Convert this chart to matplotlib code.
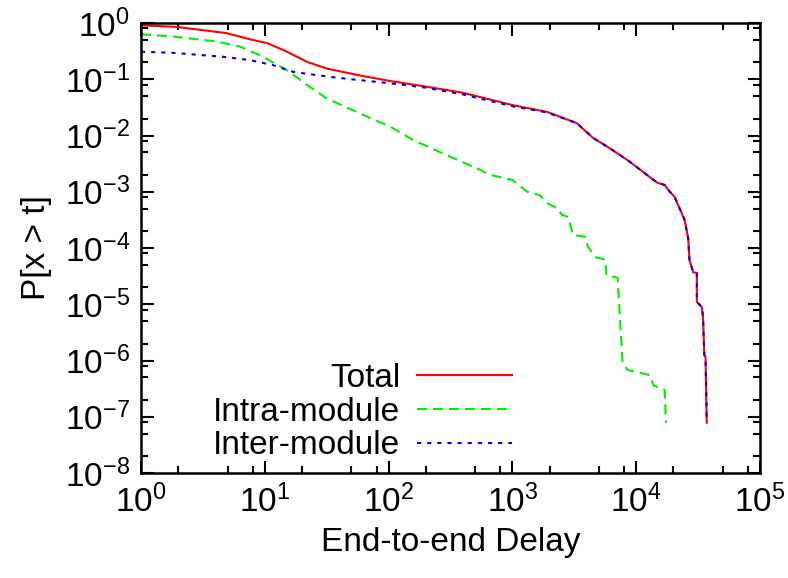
import math
import matplotlib
matplotlib.use("Agg")
import matplotlib.pyplot as plt
from matplotlib.ticker import LogLocator, NullFormatter, FuncFormatter

plt.rcParams['font.family'] = ['Liberation Sans', 'DejaVu Sans']
plt.rcParams['mathtext.fontset'] = 'custom'
plt.rcParams['mathtext.rm'] = 'Liberation Sans'
plt.rcParams['mathtext.it'] = 'Liberation Sans'
plt.rcParams['mathtext.default'] = 'regular'
plt.rcParams['lines.scale_dashes'] = False
plt.rcParams['axes.unicode_minus'] = False

# ---- data ----
total_t = [1, 1.95, 4.9, 7.6, 10.5, 15.1, 21.9, 31.6, 55, 102, 200, 398, 1000, 1905,
           3311, 4467, 6457, 8913, 12880, 14790, 16980, 18200, 20420, 22390, 24550,
           26300, 26920, 28840, 30900, 30900, 33880, 34670, 35480, 36310, 37150]
total_p = [0.912, 0.851, 0.661, 0.513, 0.437, 0.309, 0.204, 0.155, 0.120, 0.0933,
           0.0741, 0.0575, 0.0347, 0.0263, 0.0166, 0.00912, 0.0055, 0.00339, 0.00182,
           0.00145, 0.00132, 0.00107, 8.1e-4, 5.1e-4, 3.2e-4, 1.5e-4, 6.2e-5, 3.7e-5,
           3.6e-5, 1.1e-5, 8.9e-6, 5.9e-6, 1.26e-6, 1.15e-6, 7.8e-8]

inter_t = [1, 1.8, 4.6, 7.6, 11.7, 17, 31.6, 55, 102, 200, 398, 1000, 1905,
           3311, 4467, 6457, 8913, 12880, 14790, 16980, 18200, 20420, 22390, 24550,
           26300, 26920, 28840, 30900, 30900, 33880, 34670, 35480, 36310, 37150]
inter_p = [0.309, 0.295, 0.251, 0.219, 0.178, 0.135, 0.112, 0.0977, 0.0851, 0.0708,
           0.0537, 0.0331, 0.0257, 0.0166, 0.00912, 0.0055, 0.00339, 0.00182,
           0.00145, 0.00132, 0.00107, 8.1e-4, 5.1e-4, 3.2e-4, 1.5e-4, 6.2e-5, 3.7e-5,
           3.6e-5, 1.1e-5, 8.9e-6, 5.9e-6, 1.26e-6, 1.15e-6, 7.8e-8]

intra_t = [1, 1.8, 4.1, 6.3, 9.1, 15.1, 21.9, 31.6, 55, 102, 158, 295, 550, 660, 1000,
           1318, 1660, 1905, 2291, 2512, 2818, 3090, 3890, 4074, 4677, 5623, 5754,
           7079, 7762, 8511, 12880, 13800, 16980, 17380]
intra_p = [0.631, 0.575, 0.468, 0.380, 0.269, 0.145, 0.0794, 0.0457, 0.0263, 0.0145,
           0.0083, 0.00447, 0.00245, 0.0020, 0.00162, 0.0010, 8.7e-4, 6.3e-4, 5.1e-4,
           3.9e-4, 3.55e-4, 1.7e-4, 1.58e-4, 1.05e-4, 6.9e-5, 6.2e-5, 3.3e-5, 2.95e-5,
           9.1e-7, 6.8e-7, 5.5e-7, 3.6e-7, 3.0e-7, 7.8e-8]

labels = ["Total", "Intra-module", "Inter-module"]
x_label = "End-to-end Delay"
y_label = "P[x > t]"

fig = plt.figure(figsize=(7.88, 5.78), dpi=100)
ax = fig.add_axes([141/788, 1-473/578, (760-141)/788, (473-23)/578])

ax.plot(total_t, total_p, color='#ff0000', lw=1.5, ls='-', label=labels[0])
ax.plot(intra_t, intra_p, color='#00ee00', lw=1.5, ls=(0, (7.2, 4.3)), label=labels[1])
ax.plot(inter_t, inter_p, color='#0000ff', lw=1.5, ls=(0, (3.0, 4.3)), label=labels[2])

ax.set_xscale('log')
ax.set_yscale('log')
ax.set_xlim(1, 1e5)
ax.set_ylim(1e-8, 1)

fmt = FuncFormatter(lambda v, p: r'$10^{%d}$' % round(math.log10(v)))
ax.xaxis.set_major_locator(LogLocator(base=10, numticks=20))
ax.yaxis.set_major_locator(LogLocator(base=10, numticks=20))
ax.xaxis.set_major_formatter(fmt)
ax.yaxis.set_major_formatter(fmt)
ax.xaxis.set_minor_locator(LogLocator(base=10, subs=(2, 5, 8), numticks=20))
ax.yaxis.set_minor_locator(LogLocator(base=10, subs=(2, 5, 8), numticks=20))
ax.xaxis.set_minor_formatter(NullFormatter())
ax.yaxis.set_minor_formatter(NullFormatter())

ax.tick_params(which='both', direction='in', top=True, right=True, width=1.5, colors='black')
ax.tick_params(which='major', length=9, labelsize=24, pad=8)
ax.tick_params(which='minor', length=5)
for s in ax.spines.values():
    s.set_linewidth(1.8)

ax.set_xlabel(x_label, fontsize=24, labelpad=6)
ax.set_ylabel(y_label, fontsize=24, labelpad=9)

leg = ax.legend(loc='lower right', bbox_to_anchor=((512-141)/619, 0.026), frameon=False,
                markerfirst=False, fontsize=24, handlelength=2.85, handletextpad=0.5,
                borderpad=0, borderaxespad=0, labelspacing=0.08)

fig.savefig('out.png', dpi=100)
